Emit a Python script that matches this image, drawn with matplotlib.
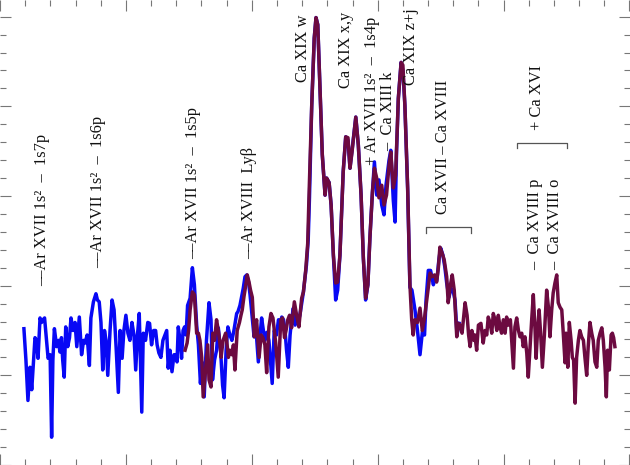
import numpy as np
import matplotlib
matplotlib.use("Agg")
import matplotlib.pyplot as plt
from matplotlib.ticker import MultipleLocator

# ── data (wavelength in Angstrom, intensity arb. units) ──
blue_wl = [3.0595, 3.0603, 3.0611, 3.0619, 3.0626, 3.0631, 3.0639, 3.0645, 3.0651, 3.0659,
           3.0665, 3.0671, 3.0677, 3.0685, 3.0691, 3.0699, 3.0705, 3.0710, 3.0716, 3.0725,
           3.0732, 3.0738, 3.0744, 3.0749, 3.0755, 3.0761, 3.0769, 3.0776, 3.0782, 3.0790,
           3.0798, 3.0805, 3.0815, 3.0824, 3.0832, 3.0838, 3.0846, 3.0855, 3.0861, 3.0871,
           3.0881, 3.0887, 3.0894, 3.0901, 3.0908, 3.0915, 3.0921, 3.0928, 3.0937, 3.0945,
           3.0953, 3.0961, 3.0970, 3.0977, 3.0985, 3.0992, 3.1000, 3.1008, 3.1016, 3.1024,
           3.1032, 3.1039, 3.1046, 3.1053, 3.1063, 3.1069, 3.1078, 3.1087, 3.1094, 3.1102,
           3.1110, 3.1118, 3.1124, 3.1131, 3.1139, 3.1147, 3.1155, 3.1162, 3.1168, 3.1175,
           3.1183, 3.1191, 3.1199, 3.1203, 3.1208, 3.1215, 3.1221, 3.1227, 3.1233, 3.1239,
           3.1245, 3.1255, 3.1264, 3.1272, 3.1281, 3.1288, 3.1296, 3.1302, 3.1311, 3.1320,
           3.1330, 3.1338, 3.1344, 3.1352, 3.1360, 3.1367, 3.1376, 3.1384, 3.1390, 3.1398,
           3.1405, 3.1413, 3.1421, 3.1429, 3.1440, 3.1445, 3.1453, 3.1461, 3.1466, 3.1473,
           3.1480, 3.1487, 3.1493, 3.1500, 3.1509, 3.1517, 3.1526, 3.1533, 3.1539, 3.1546,
           3.1552, 3.1560, 3.1568, 3.1574, 3.1581, 3.1589, 3.1598, 3.1606, 3.1612, 3.1619,
           3.1626, 3.1632, 3.1638, 3.1645, 3.1652, 3.1658, 3.1665, 3.1672, 3.1678, 3.1683,
           3.1691, 3.1697, 3.1705, 3.1711, 3.1717, 3.1724, 3.1729, 3.1738, 3.1748, 3.1755,
           3.1762, 3.1771, 3.1780, 3.1791, 3.1797, 3.1807, 3.1815, 3.1824, 3.1833, 3.1841,
           3.1850, 3.1863, 3.1873, 3.1882, 3.1890, 3.1898, 3.1913, 3.1923, 3.1934, 3.1943,
           3.1952, 3.1961, 3.1969, 3.1979, 3.1987, 3.1996, 3.2005, 3.2016, 3.2025, 3.2033,
           3.2045, 3.2052, 3.2062, 3.2069, 3.2075, 3.2082, 3.2093, 3.2100, 3.2108, 3.2119,
           3.2128, 3.2136, 3.2148, 3.2158, 3.2168, 3.2178, 3.2186, 3.2192, 3.2201, 3.2210,
           3.2221, 3.2228, 3.2235, 3.2243, 3.2250, 3.2259, 3.2267, 3.2274, 3.2283, 3.2291,
           3.2299, 3.2307, 3.2315, 3.2323]
blue_int = [1.52, 1.17, 0.72, 1.09, 0.84, 1.06, 1.42, 1.39, 1.19, 1.64,
            1.59, 1.62, 1.64, 1.39, 1.19, 1.23, 0.31, 1.17, 1.52, 1.32,
            1.39, 1.26, 1.42, 1.17, 0.98, 1.54, 1.32, 1.42, 1.64, 1.50,
            1.59, 1.32, 1.65, 1.23, 1.39, 1.36, 1.45, 1.11, 1.64, 1.82,
            1.91, 1.84, 1.82, 1.59, 1.06, 1.50, 1.39, 1.00, 1.50, 1.84,
            1.73, 1.32, 0.81, 1.50, 1.19, 1.50, 1.67, 1.47, 1.39, 1.59,
            1.45, 1.06, 1.45, 1.69, 0.59, 1.47, 1.39, 1.59, 1.58, 1.34,
            1.50, 1.50, 1.34, 1.25, 1.20, 1.39, 1.45, 1.50, 1.08, 1.28,
            1.04, 1.23, 1.23, 1.15, 1.54, 1.39, 1.19, 1.50, 1.54, 1.45,
            1.78, 1.86, 2.20, 2.01, 1.56, 1.34, 0.91, 1.15, 0.76, 1.39,
            1.81, 1.62, 0.95, 1.17, 1.28, 1.53, 1.28, 0.89, 0.75, 1.28,
            1.54, 1.45, 1.39, 1.50, 1.69, 1.71, 1.78, 1.90, 1.97, 2.10,
            2.12, 2.04, 1.90, 1.69, 1.43, 1.50, 1.15, 1.45, 1.64, 1.50,
            1.39, 1.48, 1.39, 1.17, 0.91, 1.50, 1.45, 1.62, 1.56, 1.65,
            1.62, 1.50, 1.28, 1.09, 1.45, 1.62, 1.75, 1.56, 1.67, 1.59,
            1.67, 1.78, 1.93, 2.08, 2.23, 2.51, 2.98, 4.01, 4.76, 4.99,
            4.91, 4.20, 3.46, 3.01, 3.20, 3.15, 2.90, 2.34, 1.84, 1.95,
            2.34, 3.27, 3.66, 3.62, 3.31, 3.51, 3.88, 3.57, 3.01, 2.31,
            1.84, 2.01, 2.53, 3.04, 3.38, 3.01, 3.18, 2.90, 2.79, 3.12,
            3.40, 3.51, 2.95, 2.71, 3.51, 4.09, 4.49, 4.40, 4.01, 3.07,
            1.98, 1.95, 1.73, 1.50, 1.23, 1.50, 1.45, 1.84, 2.17, 2.17,
            2.01, 2.08, 2.06, 2.29, 2.42, 2.34, 2.20, 2.03, 1.87, 1.97,
            1.95, 1.84, 1.45, 1.58]

red_wl = [3.1235, 3.1243, 3.1249, 3.1255, 3.1264, 3.1272, 3.1281, 3.1288, 3.1294, 3.1301,
          3.1307, 3.1317, 3.1325, 3.1330, 3.1338, 3.1345, 3.1352, 3.1360, 3.1367, 3.1374,
          3.1378, 3.1386, 3.1396, 3.1402, 3.1407, 3.1413, 3.1421, 3.1427, 3.1433, 3.1442,
          3.1451, 3.1457, 3.1462, 3.1469, 3.1473, 3.1482, 3.1489, 3.1495, 3.1502, 3.1510,
          3.1519, 3.1529, 3.1537, 3.1544, 3.1552, 3.1559, 3.1568, 3.1576, 3.1584, 3.1595,
          3.1605, 3.1615, 3.1622, 3.1630, 3.1636, 3.1643, 3.1650, 3.1658, 3.1669, 3.1678,
          3.1687, 3.1698, 3.1705, 3.1714, 3.1722, 3.1727, 3.1738, 3.1748, 3.1755, 3.1762,
          3.1771, 3.1780, 3.1791, 3.1797, 3.1807, 3.1815, 3.1824, 3.1833, 3.1841, 3.1850,
          3.1863, 3.1873, 3.1882, 3.1890, 3.1898, 3.1913, 3.1923, 3.1934, 3.1943, 3.1952,
          3.1961, 3.1969, 3.1979, 3.1987, 3.1996, 3.2005, 3.2016, 3.2025, 3.2035, 3.2045,
          3.2052, 3.2062, 3.2071, 3.2082, 3.2093, 3.2100, 3.2108, 3.2119, 3.2128, 3.2135,
          3.2141, 3.2148, 3.2158, 3.2168, 3.2177, 3.2186, 3.2195, 3.2201, 3.2208, 3.2216,
          3.2226, 3.2234, 3.2241, 3.2247, 3.2255, 3.2264, 3.2274, 3.2280, 3.2289, 3.2296,
          3.2304, 3.2314, 3.2320, 3.2327, 3.2335, 3.2347, 3.2355, 3.2361, 3.2367, 3.2374,
          3.2382, 3.2386, 3.2393, 3.2400, 3.2410, 3.2419, 3.2426, 3.2433, 3.2439, 3.2446,
          3.2453, 3.2459, 3.2466, 3.2473, 3.2479, 3.2486, 3.2492, 3.2499, 3.2506, 3.2512,
          3.2519, 3.2527, 3.2539, 3.2545, 3.2552, 3.2559, 3.2565, 3.2572, 3.2578, 3.2585,
          3.2592, 3.2598, 3.2605, 3.2612, 3.2618, 3.2625, 3.2629, 3.2635, 3.2641, 3.2647,
          3.2654, 3.2662, 3.2671, 3.2678, 3.2684, 3.2691, 3.2697, 3.2704, 3.2711, 3.2717,
          3.2724, 3.2731, 3.2737, 3.2744, 3.2748, 3.2755, 3.2761, 3.2768, 3.2773, 3.2778,
          3.2784, 3.2790, 3.2797, 3.2803, 3.2810, 3.2817, 3.2823, 3.2830, 3.2836, 3.2843,
          3.2850, 3.2856, 3.2863, 3.2870, 3.2876, 3.2883, 3.2890, 3.2896, 3.2903, 3.2908,
          3.2913, 3.2920, 3.2927, 3.2932, 3.2937, 3.2942]
red_int = [1.28, 1.36, 1.50, 1.73, 1.93, 1.90, 1.47, 1.47, 1.39, 1.20,
           0.76, 1.09, 1.34, 0.95, 0.87, 1.47, 1.39, 1.62, 1.50, 1.34,
           1.20, 1.39, 1.47, 1.34, 1.20, 1.28, 1.23, 1.34, 1.06, 1.50,
           1.59, 1.67, 1.73, 1.88, 1.95, 2.12, 2.04, 1.95, 1.87, 1.43,
           1.62, 1.20, 1.45, 1.42, 1.34, 1.03, 1.54, 1.69, 1.64, 1.36,
           0.98, 1.62, 1.64, 1.42, 1.50, 1.62, 1.67, 1.53, 1.82, 1.67,
           1.54, 1.86, 1.93, 2.17, 2.47, 2.98, 4.01, 4.76, 4.99, 4.91,
           4.20, 3.46, 3.01, 3.20, 3.15, 2.90, 2.34, 2.03, 2.04, 2.34,
           3.27, 3.66, 3.65, 3.31, 3.49, 3.88, 3.57, 3.01, 2.31, 1.86,
           2.01, 2.53, 3.04, 3.31, 3.20, 2.98, 3.12, 2.90, 3.01, 3.34,
           3.49, 3.09, 3.23, 4.09, 4.49, 4.46, 4.01, 3.09, 2.01, 1.62,
           1.45, 1.62, 1.59, 1.75, 1.50, 1.64, 1.84, 1.98, 2.14, 2.10,
           2.12, 2.04, 2.20, 2.43, 2.37, 2.29, 2.10, 1.81, 2.01, 2.12,
           1.95, 1.43, 1.58, 1.56, 1.47, 1.81, 1.67, 1.45, 1.32, 1.50,
           1.39, 1.45, 1.28, 1.56, 1.58, 1.36, 1.50, 1.45, 1.65, 1.59,
           1.47, 1.69, 1.62, 1.50, 1.67, 1.54, 1.47, 1.62, 1.47, 1.65,
           1.56, 1.62, 1.08, 1.54, 1.64, 1.50, 1.43, 1.47, 1.32, 1.43,
           1.25, 0.98, 1.32, 1.64, 1.90, 1.50, 1.19, 1.50, 1.73, 1.47,
           1.09, 1.45, 1.95, 1.76, 1.43, 1.73, 1.92, 2.03, 2.12, 1.81,
           1.76, 1.73, 1.47, 1.14, 1.47, 1.09, 1.59, 1.39, 1.20, 1.17,
           0.69, 1.20, 1.39, 1.50, 1.43, 1.39, 1.20, 1.00, 1.32, 1.59,
           1.47, 1.39, 1.15, 1.09, 1.39, 1.47, 1.53, 1.39, 1.09, 0.76,
           1.28, 1.06, 1.45, 1.47, 1.42, 1.32]

# line identifications: text, wavelength, height of the lower end of the text
line_labels = ["––Ar XVII 1s²  –  1s7p", "––Ar XVII 1s²  –  1s6p", "––Ar XVII 1s²  –  1s5p",
               "––Ar XVIII  Lyβ", "Ca XIX w", "Ca XIX x,y", "+ Ar XVII 1s²  –  1s4p",
               "–  Ca XIII k", "Ca XIX z+j", "Ca XVII\u2009–\u2009Ca XVIII", "+ Ca XVI",
               "–  Ca XVIII p", "–  Ca XVIII o"]
label_wl = [3.0667, 3.0889, 3.1267, 3.1489, 3.1704, 3.1874, 3.1978,
            3.2042, 3.2133, 3.2259, 3.2633, 3.2625, 3.2704]
label_y = [2.0, 2.2, 2.3, 2.3, 4.27, 4.2, 3.35,
           3.5, 4.24, 2.8, 3.74, 2.18, 2.18]

# brackets grouping blends: (start, end, height)
bracket_lo = [3.2192, 3.2552]
bracket_hi = [3.2369, 3.2751]
bracket_y = [2.65, 3.59]

plt.rcParams["font.family"] = ["Liberation Serif", "DejaVu Serif"]

fig = plt.figure(figsize=(6.3, 4.65), dpi=100)
ax = fig.add_axes([0, 0, 1, 1])

ax.plot(blue_wl, blue_int, color="#0808f5", lw=2.5, solid_joinstyle="round")
ax.plot(red_wl, red_int, color="#6c0a40", lw=2.5, solid_joinstyle="round")

for txt, xw, yb in zip(line_labels, label_wl, label_y):
    ax.text(xw, yb, txt, rotation=90, ha="center", va="bottom",
            fontsize=11.8, color="#111111")

for x0, x1, yb in zip(bracket_lo, bracket_hi, bracket_y):
    ax.plot([x0, x0, x1, x1], [yb - 0.06, yb, yb, yb - 0.06],
            color="#555555", lw=0.9)

ax.set_xlim(3.05, 3.3002)
ax.set_ylim(0, 5.186)
ax.xaxis.set_major_locator(MultipleLocator(0.05))
ax.xaxis.set_minor_locator(MultipleLocator(0.01))
ax.yaxis.set_major_locator(MultipleLocator(1))
ax.yaxis.set_minor_locator(MultipleLocator(0.2))
ax.tick_params(which="both", direction="in", top=True, right=True,
               labelbottom=False, labelleft=False, colors="#777777", width=0.8)
ax.tick_params(which="major", length=8)
ax.tick_params(which="minor", length=4.5)
for s in ax.spines.values():
    s.set_visible(False)

plt.savefig("out.png", dpi=100)
